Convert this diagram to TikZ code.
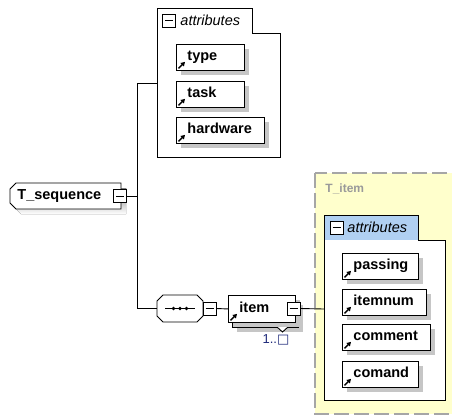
\documentclass[tikz,border=0pt]{standalone}
\usepackage{fontspec}
\setmainfont{Liberation Sans}
\newfontfamily\symfont{DejaVu Sans}
\usetikzlibrary{shadows,arrows.meta}

\definecolor{shade}{HTML}{C6C6C6}
\definecolor{typefill}{HTML}{FFFFCC}
\definecolor{typeedge}{HTML}{A6A6A6}
\definecolor{tabblue}{HTML}{B0D0F2}
\definecolor{occur}{HTML}{1F2A7A}
\definecolor{typename}{HTML}{9A9A9A}

% small reference arrow in the lower left corner of a box
\newcommand\attrmark[1]{%
  \draw[line width=1.5pt,-{Triangle[length=4pt,width=4.6pt]}]
    ([xshift=2.5pt,yshift=2.5pt]#1.south west) -- ([xshift=9pt,yshift=9pt]#1.south west);}

\begin{document}
\begin{tikzpicture}[x=1pt,y=-1pt,line width=0.9pt,
  boxfont/.style={font=\fontsize{14.5}{16}\selectfont\bfseries},
  shade5/.style={drop shadow={shadow xshift=5pt,shadow yshift=-5pt,fill=shade,opacity=1}},
  attr/.style={draw, fill=white, shade5, boxfont, anchor=north west,
    inner xsep=0pt, inner ysep=0pt, minimum height=26pt, text width=#1,
    align=left, text height=10.5pt, text depth=3.5pt},
  minus/.style={draw, fill=white, minimum size=13pt, inner sep=0pt,
    path picture={\draw[line width=1pt]
      ([xshift=2.5pt]path picture bounding box.west) --
      ([xshift=-2.5pt]path picture bounding box.east);}},
  grouplbl/.style={font=\fontsize{14.5}{16}\selectfont\itshape, anchor=west, inner sep=0pt},
]
\useasboundingbox (0,0) rectangle (452,416);

% ---------- complex type T_item (yellow, dashed) ----------
\draw[fill=typefill, draw=typeedge, line width=1.2pt, dash pattern=on 15pt off 5pt]
  (315,173) rectangle (470,414);
\node[font=\fontsize{12}{14}\selectfont\bfseries, text=typename, anchor=west, inner sep=0pt]
  (tname) at (325,189) {T\_item};

% attribute group of T_item
\fill[white] (324,240) rectangle (445,400);
\fill[tabblue] (324,215) rectangle (418,240);
\draw (324,400) -- (324,215) -- (418,215) -- (418,240) -- (445,240) -- (445,400) -- cycle;
\node[minus] (itemattrm) at (336.5,227.5) {};
\node[grouplbl] (itemattrlbl) at (347,227.5) {attributes};
\coordinate (itemattrin) at (324,309);

\node[attr=76pt] (passing) at (342,253) {\hspace*{11pt}passing};
\node[attr=84pt] (itemnum) at (342,289) {\hspace*{11pt}itemnum};
\node[attr=88pt] (comment) at (342,324) {\hspace*{11pt}comment};
\node[attr=76pt] (comand)  at (342,361) {\hspace*{11pt}comand};
\attrmark{passing}\attrmark{itemnum}\attrmark{comment}\attrmark{comand}

% ---------- attribute group of T_sequence ----------
\draw[fill=white] (157,157) -- (157,8) -- (252,8) -- (252,33) -- (280,33) -- (280,157) -- cycle;
\node[minus] (seqattrm) at (169,20.5) {};
\node[grouplbl] (seqattrlbl) at (180,20.5) {attributes};
\coordinate (seqattrin) at (157,83);

\node[attr=68pt] (type)     at (176,44)  {\hspace*{11pt}type};
\node[attr=68pt] (task)     at (176,81)  {\hspace*{11pt}task};
\node[attr=88pt] (hardware) at (176,117) {\hspace*{11pt}hardware};
\attrmark{type}\attrmark{task}\attrmark{hardware}

% ---------- element T_sequence ----------
\fill[shade] (21,188) -- (126,188) -- (126,214) -- (21,214) -- (15,208) -- (15,194) -- cycle;
\draw[fill=white] (16,183) -- (121,183) -- (121,209) -- (16,209) -- (10,203) -- (10,189) -- cycle;
\node[boxfont, anchor=west, inner sep=0pt] (tseq) at (17,196) {T\_sequence};
\node[minus] (tseqm) at (120,196) {};

% ---------- sequence compositor ----------
\node[minimum width=46pt, minimum height=27pt, inner sep=0pt] (seq) at (180,308.5) {};
\draw[fill=white] (163,295) -- (197,295) -- (203,301) -- (203,316) -- (197,322)
  -- (163,322) -- (157,316) -- (157,301) -- cycle;
\draw (165,308.5) -- (195,308.5);
\foreach \dx in {173.5,180,186.5} \fill (\dx,308.5) circle (1.9pt);
\node[minus] (seqm) at (209.5,308.5) {};

% ---------- element item (1..unbounded) ----------
\node[draw, fill=white, shade5, minimum width=66pt, minimum height=27pt,
  anchor=north west, inner sep=0pt] (itemback) at (232,300) {};
\draw[fill=white] (277,327) -- (282.5,332) -- (288,327);
\node[attr=67pt, drop shadow={opacity=0}, minimum height=27pt] (item) at (228,295) {\hspace*{11pt}item};
\attrmark{item}
\node[minus] (itemm) at (293.5,308.5) {};
\node[font=\fontsize{13}{14}\selectfont, text=occur, inner sep=0pt] (mult) at (276,340)
  {1..{\symfont □}};

% ---------- connectors ----------
\coordinate (jtop) at (137,83);
\coordinate (jmid) at (137,196);
\coordinate (jbot) at (137,308.5);
\draw (tseqm.east) -- (jmid);
\draw (jtop) -- (jbot);
\draw (jtop) -- (seqattrin);
\draw (jbot) -- (seq.west);
\draw (seq.east) -- (seqm.west);
\draw (seqm.east) -- (item.west);
\draw (itemm.east) -- (itemattrin);
\end{tikzpicture}
\end{document}
